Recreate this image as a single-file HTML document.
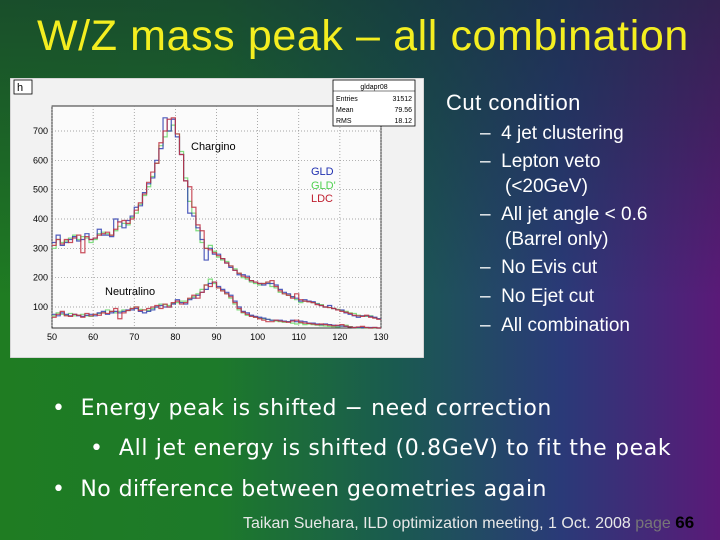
<!DOCTYPE html>
<html><head><meta charset="utf-8"><style>
html,body{margin:0;padding:0}
body{width:720px;height:540px;position:relative;overflow:hidden;font-family:"Liberation Sans",sans-serif;}
#bg{position:absolute;inset:0;background:
linear-gradient(180deg,rgba(20,40,50,0.55) 0%,rgba(0,0,0,0) 55%),
linear-gradient(90deg,#1f7c22 0%,#1d7a2a 30%,#1a5a50 55%,#2a3a78 78%,#5a1a78 100%);}
.t{position:absolute;white-space:nowrap;color:#fff}
.c{position:absolute;white-space:nowrap;color:#fff;font-size:19px;line-height:20px}
</style></head><body>
<div id="bg"></div>
<div class="t" style="left:37px;top:12px;font-size:43px;letter-spacing:0.6px;color:#f4ee20">W/Z mass peak – all combination</div>

<svg id="chart" style="position:absolute;left:10px;top:78px" width="414" height="280" viewBox="10 78 414 280"></svg>

<div class="t" style="left:446px;top:90px;font-size:22px;letter-spacing:0.5px">Cut condition</div>
<div class="c" style="left:480px;top:124px">–&nbsp;&nbsp;4 jet clustering</div>
<div class="c" style="left:480px;top:152px">–&nbsp;&nbsp;Lepton veto</div>
<div class="c" style="left:505px;top:177px">(&lt;20GeV)</div>
<div class="c" style="left:480px;top:205px">–&nbsp;&nbsp;All jet angle &lt; 0.6</div>
<div class="c" style="left:505px;top:230px">(Barrel only)</div>
<div class="c" style="left:480px;top:258px">–&nbsp;&nbsp;No Evis cut</div>
<div class="c" style="left:480px;top:287px">–&nbsp;&nbsp;No Ejet cut</div>
<div class="c" style="left:480px;top:316px">–&nbsp;&nbsp;All combination</div>

<div class="t" style="left:52px;top:396px;font-size:22px;font-family:'DejaVu Sans',sans-serif;letter-spacing:0.55px">•&nbsp; Energy peak is shifted − need correction</div>
<div class="t" style="left:90px;top:436px;font-size:22px;font-family:'DejaVu Sans',sans-serif;letter-spacing:0.65px">•&nbsp; All jet energy is shifted (0.8GeV) to fit the peak</div>
<div class="t" style="left:52px;top:477px;font-size:22px;font-family:'DejaVu Sans',sans-serif;letter-spacing:0.45px">•&nbsp; No difference between geometries again</div>
<div class="t" style="left:243px;top:513px;font-size:16px;color:#e8e8e8">Taikan Suehara, ILD optimization meeting, 1 Oct. 2008 <span style="color:#777">page</span> <b style="color:#000;font-size:17px">66</b></div>

<script>
const binStart = 50;
const chGLD  = [320,345,310,320,330,340,325,330,350,330,335,365,345,345,340,400,390,370,395,410,440,445,490,520,540,600,640,745,700,740,680,620,530,420,410,370,330,260,300,280,280,265,250,235,225,210,210,205,190,185,180,175,180,180,175,160,150,145,135,130,120,125,120,118,110,105,100,105,95,90,90,80,75,70,65,70,70,68,65,60];
const chGLDp = [300,330,320,325,335,345,330,340,335,320,330,350,355,350,345,360,375,385,380,405,420,450,480,510,545,590,650,680,700,720,690,630,540,460,420,360,320,300,310,290,270,260,255,240,230,215,200,195,185,180,175,180,185,170,165,150,145,140,135,125,115,120,118,115,112,108,100,98,95,92,88,85,80,78,72,70,68,70,64,60];
const chLDC  = [310,330,315,330,320,335,345,285,340,330,335,345,350,355,345,365,390,395,385,400,430,455,485,525,560,590,660,700,740,745,690,620,530,510,440,380,360,300,295,285,275,265,250,240,225,215,205,200,190,185,180,180,185,190,170,155,145,140,130,145,125,120,118,115,108,105,100,98,95,90,85,82,78,72,70,68,72,65,62,58];
const neGLD  = [75,70,80,75,70,75,70,68,72,75,70,80,85,75,80,85,80,85,90,90,95,85,80,85,90,100,105,100,100,110,125,115,110,125,130,140,150,160,180,185,170,160,150,140,120,100,85,80,72,68,65,62,58,55,55,55,52,50,55,50,52,50,45,45,42,40,42,40,38,36,35,34,32,30,30,30,30,30,30,28];
const neGLDp = [70,80,75,72,78,70,72,75,70,68,75,78,80,90,85,80,85,90,88,95,100,92,90,88,95,100,110,108,105,112,115,120,120,128,135,145,160,175,195,180,165,155,145,130,110,90,80,72,70,65,62,60,58,55,52,50,48,50,45,42,45,40,42,40,38,36,35,34,33,32,35,38,33,30,28,30,28,27,27,26];
const neLDC  = [65,75,85,70,68,75,72,65,78,70,75,72,80,78,85,95,60,80,88,95,100,88,90,95,100,105,95,110,100,115,120,110,115,130,140,130,150,175,170,185,165,155,145,135,115,95,82,75,68,65,60,55,50,50,55,52,50,48,52,55,48,45,44,42,40,42,40,38,36,38,40,35,32,30,32,34,30,28,30,28];
const xTicks = [50,60,70,80,90,100,110,120,130];
const yTicks = [100,200,300,400,500,600,700];

const ns='http://www.w3.org/2000/svg';
const svg=document.getElementById('chart');
const X0=52,X1=381,Y100=307,Y700=131,PB=328,PT=106;
const xs=v=>X0+(v-50)*(X1-X0)/80;
const ys=v=>{const y=Y100-(v-100)*(Y100-Y700)/600;return Math.max(PT,Math.min(PB,y));};
function mk(tag,attrs,parent){const e=document.createElementNS(ns,tag);for(const k in attrs)e.setAttribute(k,attrs[k]);(parent||svg).appendChild(e);return e;}

const bgr=mk('rect',{x:10,y:78,width:414,height:280,fill:'#f2f2f2',stroke:'#bbb'});


const frame=mk('rect',{x:X0,y:PT,width:X1-X0,height:PB-PT,fill:'#fbfbfb',stroke:'#000','stroke-width':0.8});



xTicks.forEach(t=>{
  const g=mk('line',{x1:xs(t),x2:xs(t),y1:PT,y2:PB,stroke:'#888','stroke-dasharray':'1,2','stroke-width':0.7});
  
  
  const l=mk('text',{x:xs(t),y:PB+12,'font-size':9,'text-anchor':'middle',fill:'#000'});
  l.textContent=t;
  
  
});
yTicks.forEach(t=>{
  const g=mk('line',{x1:X0,x2:X1,y1:ys(t),y2:ys(t),stroke:'#888','stroke-dasharray':'1,2','stroke-width':0.7});
  
  
  const l=mk('text',{x:X0-4,y:ys(t)+3,'font-size':9,'text-anchor':'end',fill:'#000'});
  l.textContent=t;
  
  
});

function hist(arr,color,name){
  let d='M'+xs(binStart)+','+ys(arr[0]);
  arr.forEach((v,i)=>{d+=' L'+xs(binStart+i)+','+ys(v)+' L'+xs(binStart+i+1)+','+ys(v);
    if(i<arr.length-1)d+=' L'+xs(binStart+i+1)+','+ys(arr[i+1]);});
  const p=mk('path',{d:d,fill:'none',stroke:color,'stroke-width':1.2,opacity:0.85});
  
  
}
hist(neGLDp,'#6ad86a','neutralino-gldprime');
hist(neGLD,'#3040b0','neutralino-gld');
hist(neLDC,'#c03040','neutralino-ldc');
hist(chGLDp,'#6ad86a','chargino-gldprime');
hist(chGLD,'#3040b0','chargino-gld');
hist(chLDC,'#c03040','chargino-ldc');

function txt(x,y,s,size,fill,name,anchor){const t=mk('text',{x:x,y:y,'font-size':size,fill:fill,'text-anchor':anchor||'start'});t.textContent=s;
  
  return t;}
txt(191,150,'Chargino',11,'#000','chargino-label');
txt(105,295,'Neutralino',11,'#000','neutralino-label');
txt(311,175,'GLD',11,'#2030b0','legend-gld');
txt(311,189,'GLD\'',11,'#50d050','legend-gldprime');
txt(311,202,'LDC',11,'#c02030','legend-ldc');

const hb=mk('rect',{x:14,y:80,width:18,height:14,fill:'#fff',stroke:'#000','stroke-width':0.8});


txt(17,91,'h',11,'#000','histogram-title');

const sb=mk('rect',{x:333,y:80,width:82,height:46,fill:'#fff',stroke:'#000','stroke-width':0.8});


const sl=mk('line',{x1:333,x2:415,y1:91,y2:91,stroke:'#000','stroke-width':0.6});


txt(374,89,'gldapr08',7,'#000','stats-title','middle');
txt(336,101,'Entries',7,'#000','stats-entries-label');txt(412,101,'31512',7,'#000','stats-entries-value','end');
txt(336,112,'Mean',7,'#000','stats-mean-label');txt(412,112,'79.56',7,'#000','stats-mean-value','end');
txt(336,123,'RMS',7,'#000','stats-rms-label');txt(412,123,'18.12',7,'#000','stats-rms-value','end');
</script>
</body></html>
